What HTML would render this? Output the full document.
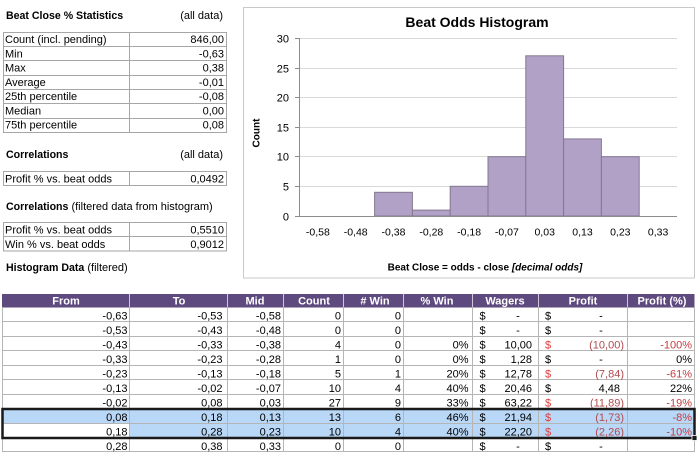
<!DOCTYPE html>
<html><head><meta charset="utf-8">
<style>
html,body{margin:0;padding:0;background:#fff;}
svg{display:block;}
text{font-family:"Liberation Sans",Arial,sans-serif;}
</style></head>
<body>
<svg width="700" height="461" viewBox="0 0 700 461" xmlns="http://www.w3.org/2000/svg">
<rect width="700" height="461" fill="#fff"/>

<!-- ===== Left stats ===== -->
<g font-size="11" fill="#000">
<text x="6" y="19" font-weight="bold" font-size="10.6">Beat Close % Statistics</text>
<text x="223" y="19" text-anchor="end">(all data)</text>
</g>
<g stroke="#a6a6a6" stroke-width="1" shape-rendering="crispEdges" fill="none">
<rect x="3.5" y="32.5" width="223" height="100"/>
<line x1="129.5" y1="32" x2="129.5" y2="133"/>
<line x1="3" y1="46.5" x2="227" y2="46.5"/>
<line x1="3" y1="60.5" x2="227" y2="60.5"/>
<line x1="3" y1="75.5" x2="227" y2="75.5"/>
<line x1="3" y1="89.5" x2="227" y2="89.5"/>
<line x1="3" y1="103.5" x2="227" y2="103.5"/>
<line x1="3" y1="118.5" x2="227" y2="118.5"/>
</g>
<g font-size="11" fill="#000">
<text x="5" y="43">Count (incl. pending)</text><text x="224" y="43" text-anchor="end">846,00</text>
<text x="5" y="57.3">Min</text><text x="224" y="57.3" text-anchor="end">-0,63</text>
<text x="5" y="71.6">Max</text><text x="224" y="71.6" text-anchor="end">0,38</text>
<text x="5" y="85.9">Average</text><text x="224" y="85.9" text-anchor="end">-0,01</text>
<text x="5" y="100.1">25th percentile</text><text x="224" y="100.1" text-anchor="end">-0,08</text>
<text x="5" y="114.4">Median</text><text x="224" y="114.4" text-anchor="end">0,00</text>
<text x="5" y="128.7">75th percentile</text><text x="224" y="128.7" text-anchor="end">0,08</text>
</g>

<g font-size="11" fill="#000">
<text x="6" y="158" font-weight="bold" font-size="10.6">Correlations</text>
<text x="223" y="158" text-anchor="end">(all data)</text>
</g>
<g stroke="#a6a6a6" stroke-width="1" shape-rendering="crispEdges" fill="none">
<rect x="3.5" y="171.5" width="223" height="14"/>
<line x1="129.5" y1="171" x2="129.5" y2="186"/>
</g>
<g font-size="11" fill="#000">
<text x="5" y="182.5">Profit % vs. beat odds</text><text x="224" y="182.5" text-anchor="end">0,0492</text>
</g>

<text x="6" y="210" font-size="11" fill="#000"><tspan font-weight="bold" font-size="10.6">Correlations</tspan> (filtered data from histogram)</text>
<g stroke="#a6a6a6" stroke-width="1" shape-rendering="crispEdges" fill="none">
<rect x="3.5" y="222.5" width="223" height="28.5"/>
<line x1="129.5" y1="222" x2="129.5" y2="251"/>
<line x1="3" y1="236.5" x2="227" y2="236.5"/>
</g>
<g font-size="11" fill="#000">
<text x="5" y="233.5">Profit % vs. beat odds</text><text x="224" y="233.5" text-anchor="end">0,5510</text>
<text x="5" y="248">Win % vs. beat odds</text><text x="224" y="248" text-anchor="end">0,9012</text>
</g>

<text x="6" y="271" font-size="11" fill="#000"><tspan font-weight="bold" font-size="10.6">Histogram Data</tspan> (filtered)</text>

<!-- ===== Chart ===== -->
<rect x="243.5" y="7.5" width="451" height="270.5" fill="#fff" stroke="#c9c9c9" stroke-width="1"/>
<text x="477" y="27" text-anchor="middle" font-size="14" font-weight="bold" fill="#000">Beat Odds Histogram</text>
<g stroke="#d9d9d9" stroke-width="1" shape-rendering="crispEdges">
<line x1="299" y1="38.5" x2="677" y2="38.5"/>
<line x1="299" y1="68.5" x2="677" y2="68.5"/>
<line x1="299" y1="97.5" x2="677" y2="97.5"/>
<line x1="299" y1="127.5" x2="677" y2="127.5"/>
<line x1="299" y1="156.5" x2="677" y2="156.5"/>
<line x1="299" y1="186.5" x2="677" y2="186.5"/>
</g>
<g fill="#b2a1c7" stroke="#83788f" stroke-width="1">
<rect x="374.6" y="192.3" width="37.8" height="23.7"/>
<rect x="412.4" y="210.1" width="37.8" height="5.9"/>
<rect x="450.2" y="186.3" width="37.8" height="29.7"/>
<rect x="488" y="156.7" width="37.8" height="59.3"/>
<rect x="525.8" y="55.8" width="37.8" height="160.2"/>
<rect x="563.6" y="138.9" width="37.8" height="77.1"/>
<rect x="601.4" y="156.7" width="37.8" height="59.3"/>
</g>
<g stroke="#8c8c8c" stroke-width="1" shape-rendering="crispEdges">
<line x1="299.5" y1="38" x2="299.5" y2="216"/>
<line x1="299" y1="216.5" x2="677" y2="216.5"/>
<line x1="295" y1="38.5" x2="299" y2="38.5"/>
<line x1="295" y1="68.5" x2="299" y2="68.5"/>
<line x1="295" y1="97.5" x2="299" y2="97.5"/>
<line x1="295" y1="127.5" x2="299" y2="127.5"/>
<line x1="295" y1="156.5" x2="299" y2="156.5"/>
<line x1="295" y1="186.5" x2="299" y2="186.5"/>
<line x1="295" y1="216.5" x2="299" y2="216.5"/>
</g>
<g font-size="11" fill="#000" text-anchor="end">
<text x="289" y="42.5">30</text>
<text x="289" y="72.5">25</text>
<text x="289" y="101.5">20</text>
<text x="289" y="131.5">15</text>
<text x="289" y="160.5">10</text>
<text x="289" y="190.5">5</text>
<text x="289" y="220.5">0</text>
</g>
<g font-size="10.5" fill="#000" text-anchor="middle">
<text x="317.9" y="235.5">-0,58</text>
<text x="355.7" y="235.5">-0,48</text>
<text x="393.5" y="235.5">-0,38</text>
<text x="431.3" y="235.5">-0,28</text>
<text x="469.1" y="235.5">-0,18</text>
<text x="506.9" y="235.5">-0,07</text>
<text x="544.7" y="235.5">0,03</text>
<text x="582.5" y="235.5">0,13</text>
<text x="620.3" y="235.5">0,23</text>
<text x="658.1" y="235.5">0,33</text>
</g>
<text x="485" y="270.5" text-anchor="middle" font-size="10" font-weight="bold" fill="#000">Beat Close = odds - close  <tspan font-style="italic">[decimal odds]</tspan></text>
<text transform="translate(259.6,133) rotate(-90)" text-anchor="middle" font-size="10" font-weight="bold" fill="#000">Count</text>

<!-- ===== Main table ===== -->
<rect x="2" y="294" width="692.5" height="13.5" fill="#5e4a7e"/>
<g stroke="#cfc6dc" stroke-width="1" shape-rendering="crispEdges">
<line x1="129.5" y1="294" x2="129.5" y2="307"/>
<line x1="227.5" y1="294" x2="227.5" y2="307"/>
<line x1="283.5" y1="294" x2="283.5" y2="307"/>
<line x1="343.5" y1="294" x2="343.5" y2="307"/>
<line x1="403.5" y1="294" x2="403.5" y2="307"/>
<line x1="472.5" y1="294" x2="472.5" y2="307"/>
<line x1="538.5" y1="294" x2="538.5" y2="307"/>
<line x1="627.5" y1="294" x2="627.5" y2="307"/>
</g>
<g font-size="11" font-weight="bold" fill="#fff" text-anchor="middle">
<text x="66" y="304.5">From</text>
<text x="179" y="304.5">To</text>
<text x="255" y="304.5">Mid</text>
<text x="314" y="304.5">Count</text>
<text x="375" y="304.5"># Win</text>
<text x="437" y="304.5">% Win</text>
<text x="505" y="304.5">Wagers</text>
<text x="583" y="304.5">Profit</text>
<text x="662" y="304.5">Profit (%)</text>
</g>

<!-- highlighted rows -->
<rect x="2" y="408.5" width="692.5" height="14.5" fill="#b9d7f6"/>
<rect x="129" y="423" width="565.5" height="14.5" fill="#b9d7f6"/>

<g stroke="#b5b5b5" stroke-width="1" shape-rendering="crispEdges">
<line x1="2" y1="321.5" x2="694" y2="321.5"/>
<line x1="2" y1="336.5" x2="694" y2="336.5"/>
<line x1="2" y1="350.5" x2="694" y2="350.5"/>
<line x1="2" y1="365.5" x2="694" y2="365.5"/>
<line x1="2" y1="379.5" x2="694" y2="379.5"/>
<line x1="2" y1="394.5" x2="694" y2="394.5"/>
<line x1="2" y1="423.5" x2="694" y2="423.5"/>
<line x1="2" y1="451.5" x2="694" y2="451.5"/>
<line x1="2.5" y1="307" x2="2.5" y2="452"/>
<line x1="129.5" y1="307" x2="129.5" y2="452"/>
<line x1="227.5" y1="307" x2="227.5" y2="452"/>
<line x1="283.5" y1="307" x2="283.5" y2="452"/>
<line x1="343.5" y1="307" x2="343.5" y2="452"/>
<line x1="403.5" y1="307" x2="403.5" y2="452"/>
<line x1="472.5" y1="307" x2="472.5" y2="452"/>
<line x1="538.5" y1="307" x2="538.5" y2="452"/>
<line x1="627.5" y1="307" x2="627.5" y2="452"/>
<line x1="694.5" y1="307" x2="694.5" y2="452"/>
</g>

<!-- row texts -->
<g font-size="11" fill="#000">
<!-- row 1 -->
<g text-anchor="end">
<text x="127.5" y="319.5">-0,63</text><text x="222.5" y="319.5">-0,53</text><text x="281" y="319.5">-0,58</text><text x="341" y="319.5">0</text><text x="401" y="319.5">0</text>
<text x="127.5" y="334">-0,53</text><text x="222.5" y="334">-0,43</text><text x="281" y="334">-0,48</text><text x="341" y="334">0</text><text x="401" y="334">0</text>
<text x="127.5" y="348.5">-0,43</text><text x="222.5" y="348.5">-0,33</text><text x="281" y="348.5">-0,38</text><text x="341" y="348.5">4</text><text x="401" y="348.5">0</text>
<text x="127.5" y="363">-0,33</text><text x="222.5" y="363">-0,23</text><text x="281" y="363">-0,28</text><text x="341" y="363">1</text><text x="401" y="363">0</text>
<text x="127.5" y="377.5">-0,23</text><text x="222.5" y="377.5">-0,13</text><text x="281" y="377.5">-0,18</text><text x="341" y="377.5">5</text><text x="401" y="377.5">1</text>
<text x="127.5" y="392">-0,13</text><text x="222.5" y="392">-0,02</text><text x="281" y="392">-0,07</text><text x="341" y="392">10</text><text x="401" y="392">4</text>
<text x="127.5" y="406.5">-0,02</text><text x="222.5" y="406.5">0,08</text><text x="281" y="406.5">0,03</text><text x="341" y="406.5">27</text><text x="401" y="406.5">9</text>
<text x="127.5" y="421">0,08</text><text x="222.5" y="421">0,18</text><text x="281" y="421">0,13</text><text x="341" y="421">13</text><text x="401" y="421">6</text>
<text x="127.5" y="435.5">0,18</text><text x="222.5" y="435.5">0,28</text><text x="281" y="435.5">0,23</text><text x="341" y="435.5">10</text><text x="401" y="435.5">4</text>
<text x="127.5" y="450">0,28</text><text x="222.5" y="450">0,38</text><text x="281" y="450">0,33</text><text x="341" y="450">0</text><text x="401" y="450">0</text>
<!-- % win -->
<text x="468.5" y="348.5">0%</text>
<text x="468.5" y="363">0%</text>
<text x="468.5" y="377.5">20%</text>
<text x="468.5" y="392">40%</text>
<text x="468.5" y="406.5">33%</text>
<text x="468.5" y="421">46%</text>
<text x="468.5" y="435.5">40%</text>
<!-- wagers values -->
<text x="532" y="348.5">10,00</text>
<text x="532" y="363">1,28</text>
<text x="532" y="377.5">12,78</text>
<text x="532" y="392">20,46</text>
<text x="532" y="406.5">63,22</text>
<text x="532" y="421">21,94</text>
<text x="532" y="435.5">22,20</text>
<!-- profit positive -->
<text x="620" y="392">4,48</text>
<!-- profit % black -->
<text x="692" y="363">0%</text>
<text x="692" y="392">22%</text>
</g>
<!-- dollar signs black -->
<g>
<text x="479.5" y="319.5">$</text><text x="545" y="319.5">$</text>
<text x="479.5" y="334">$</text><text x="545" y="334">$</text>
<text x="479.5" y="348.5">$</text>
<text x="479.5" y="363">$</text><text x="545" y="363">$</text>
<text x="479.5" y="377.5">$</text>
<text x="479.5" y="392">$</text><text x="545" y="392">$</text>
<text x="479.5" y="406.5">$</text>
<text x="479.5" y="421">$</text>
<text x="479.5" y="435.5">$</text>
<text x="479.5" y="450">$</text><text x="545" y="450">$</text>
</g>
<!-- dashes -->
<g text-anchor="middle">
<text x="518" y="319.5">-</text><text x="601" y="319.5">-</text>
<text x="518" y="334">-</text><text x="601" y="334">-</text>
<text x="601" y="363">-</text>
<text x="518" y="450">-</text><text x="601" y="450">-</text>
</g>
</g>
<!-- red -->
<g font-size="11" fill="#e03c3c">
<text x="545" y="348.5">$</text>
<text x="545" y="377.5">$</text>
<text x="545" y="406.5">$</text>
<text x="545" y="421">$</text>
<text x="545" y="435.5">$</text>
</g>
<g font-size="11" fill="#b14a4f" text-anchor="end">
<text x="624" y="348.5">(10,00)</text>
<text x="624" y="377.5">(7,84)</text>
<text x="624" y="406.5">(11,89)</text>
<text x="624" y="421">(1,73)</text>
<text x="624" y="435.5">(2,26)</text>
</g>
<g font-size="11" fill="#c43c40" text-anchor="end">
<text x="692" y="348.5">-100%</text>
<text x="692" y="377.5">-61%</text>
<text x="692" y="406.5">-19%</text>
<text x="692" y="421">-8%</text>
<text x="692" y="435.5">-10%</text>
</g>

<!-- thick selection border -->
<rect x="2.5" y="409" width="692" height="29" fill="none" stroke="#1a1a1a" stroke-width="2.5"/>
<rect x="692" y="435.5" width="5" height="5" fill="#1a1a1a" stroke="#fff" stroke-width="0.8"/>
</svg>
</body></html>
